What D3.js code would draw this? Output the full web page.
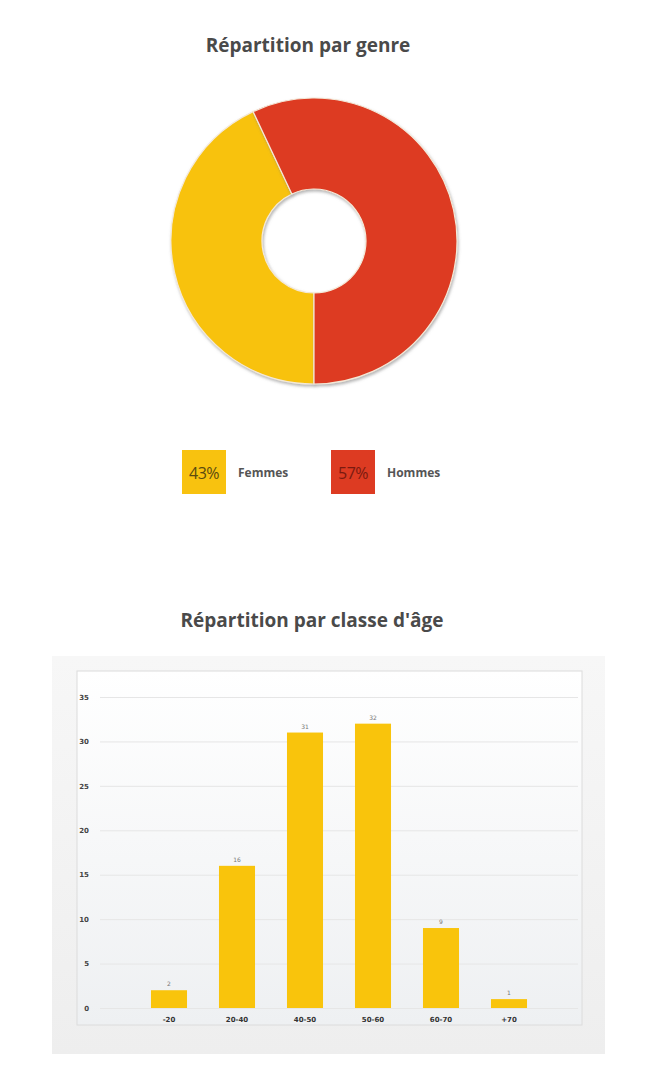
<!DOCTYPE html>
<html><head><meta charset="utf-8">
<script src="https://cdn.jsdelivr.net/npm/d3@7"></script>
<style>
html,body{margin:0;padding:0;background:#fff;}
svg{display:block;}
</style></head>
<body>
<svg id="chart" width="659" height="1067"></svg>
<script>
// ---- Data ----
const genderLabels = ["Femmes", "Hommes"];
const genderValues = [43, 57];
const genderColors = ["#F8C20F", "#DD3B22"];

const ageCategories = ["-20", "20-40", "40-50", "50-60", "60-70", "+70"];
const ageValues = [2, 16, 31, 32, 9, 1];
const ageTicks = [0, 5, 10, 15, 20, 25, 30, 35];

const svg = d3.select("#chart");
const defs = svg.append("defs");

// ---- Title 1 ----
svg.append("text").attr("x", 308).attr("y", 52).attr("text-anchor", "middle")
  .attr("font-family", "Open Sans, sans-serif").attr("font-weight", "bold")
  .attr("font-size", 19).attr("fill", "#4a4a4a").text("Répartition par genre");

// ---- Donut ----
const cx = 314, cy = 241, rOuter = 143, rInner = 52;
const pie = d3.pie().sort(null).startAngle(Math.PI).endAngle(3 * Math.PI);
const arcs = pie(genderValues);
const arc = d3.arc().innerRadius(rInner).outerRadius(rOuter);
const filt = defs.append("filter").attr("id", "shadow").attr("x", "-20%").attr("y", "-20%").attr("width", "140%").attr("height", "140%");
filt.append("feDropShadow").attr("dx", 1).attr("dy", 2).attr("stdDeviation", 1.5).attr("flood-color", "#777").attr("flood-opacity", 0.55);
const g = svg.append("g").attr("transform", `translate(${cx},${cy})`);
g.selectAll("path").data(arcs).join("path")
  .attr("d", arc).attr("fill", (d, i) => genderColors[i])
  .attr("stroke", "#f4e9d8").attr("stroke-width", 1.2)
  .attr("filter", "url(#shadow)");

// ---- Legend ----
const legendX = [182, 331];
genderLabels.forEach((lab, i) => {
  const lg = svg.append("g").attr("transform", `translate(${legendX[i]},450)`);
  lg.append("rect").attr("width", 44).attr("height", 44).attr("fill", genderColors[i]);
  lg.append("text").attr("x", 22).attr("y", 29).attr("text-anchor", "middle")
    .attr("font-family", "Open Sans, sans-serif").attr("font-size", 16).attr("letter-spacing", -0.5)
    .attr("fill", i === 0 ? "#5a4a10" : "#7a1a10").text(genderValues[i] + "%");
  lg.append("text").attr("x", 56).attr("y", 27)
    .attr("font-family", "Open Sans, sans-serif").attr("font-weight", "bold").attr("font-size", 12)
    .attr("fill", "#555").text(lab);
});

// ---- Title 2 ----
svg.append("text").attr("x", 312).attr("y", 627).attr("text-anchor", "middle")
  .attr("font-family", "Open Sans, sans-serif").attr("font-weight", "bold")
  .attr("font-size", 19).attr("fill", "#4a4a4a").text("Répartition par classe d'âge");

// ---- Bar chart panel ----
const bgGrad = defs.append("linearGradient").attr("id", "bg").attr("x1", 0).attr("y1", 0).attr("x2", 0).attr("y2", 1);
bgGrad.append("stop").attr("offset", "0%").attr("stop-color", "#ffffff");
bgGrad.append("stop").attr("offset", "100%").attr("stop-color", "#eef0f2");
const outerGrad = defs.append("linearGradient").attr("id", "outer").attr("x1", 0).attr("y1", 0).attr("x2", 0).attr("y2", 1);
outerGrad.append("stop").attr("offset", "0%").attr("stop-color", "#f7f7f7");
outerGrad.append("stop").attr("offset", "100%").attr("stop-color", "#eeeeee");
svg.append("rect").attr("x", 52).attr("y", 656).attr("width", 553).attr("height", 398).attr("fill", "url(#outer)");
svg.append("rect").attr("x", 77).attr("y", 671).attr("width", 505).attr("height", 354)
  .attr("fill", "url(#bg)").attr("stroke", "#dcdcdc").attr("stroke-width", 1);

const y = d3.scaleLinear().domain([0, 35]).range([1008, 697]);
const x = d3.scaleBand().domain(ageCategories).range([135, 543]).paddingInner(0.47).paddingOuter(0.235);

// gridlines
svg.append("g").attr("transform", "translate(100,0)")
  .call(d3.axisLeft(y).tickValues(ageTicks).tickSize(-478).tickFormat(""))
  .call(a => a.select(".domain").remove())
  .call(a => a.selectAll("line").attr("stroke", "#e6e6e6"));

// y labels
svg.append("g").attr("transform", "translate(89,0)")
  .call(d3.axisLeft(y).tickValues(ageTicks).tickSize(0).tickPadding(0))
  .call(a => a.select(".domain").remove())
  .call(a => a.selectAll("text").attr("font-family", "DejaVu Sans, sans-serif").attr("font-weight", "bold")
    .attr("font-size", 7).attr("fill", "#444"));

// bars
svg.selectAll(".bar").data(ageValues).join("rect").attr("class", "bar")
  .attr("x", (d, i) => x(ageCategories[i])).attr("width", x.bandwidth())
  .attr("y", d => y(d)).attr("height", d => y(0) - y(d))
  .attr("fill", "#F9C40C");

// value labels
svg.selectAll(".val").data(ageValues).join("text").attr("class", "val")
  .attr("x", (d, i) => x(ageCategories[i]) + x.bandwidth() / 2).attr("y", d => y(d) - 4)
  .attr("text-anchor", "middle").attr("font-family", "DejaVu Sans, sans-serif")
  .attr("font-size", 6).attr("fill", "#777").text(d => d);

// x labels
svg.append("g").attr("transform", "translate(0,1014)")
  .call(d3.axisBottom(x).tickSize(0).tickPadding(3))
  .call(a => a.select(".domain").remove())
  .call(a => a.selectAll("text").attr("font-family", "DejaVu Sans, sans-serif").attr("font-weight", "bold")
    .attr("font-size", 7).attr("fill", "#333"));
</script>
</body></html>
